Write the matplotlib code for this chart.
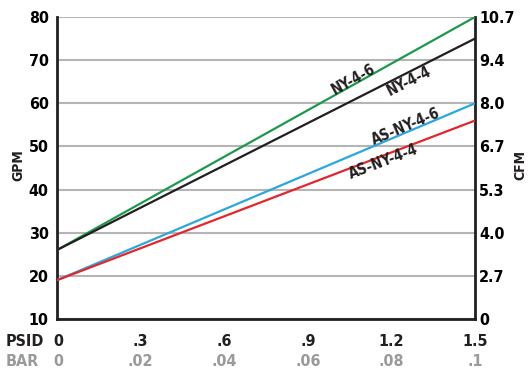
import matplotlib.pyplot as plt
import matplotlib.transforms as mtransforms
import numpy as np

# pressure drop (PSID) and flow (GPM) at each end of the curves
psid = [0, 1.5]
ny_4_6 = [26, 80]
ny_4_4 = [26, 75]
as_ny_4_6 = [19, 60]
as_ny_4_4 = [19, 56]

psid_ticks = [0, 0.3, 0.6, 0.9, 1.2, 1.5]
psid_labels = ["0", ".3", ".6", ".9", "1.2", "1.5"]
bar_labels = ["0", ".02", ".04", ".06", ".08", ".1"]
gpm_ticks = [10, 20, 30, 40, 50, 60, 70, 80]
cfm_labels = ["0", "2.7", "4.0", "5.3", "6.7", "8.0", "9.4", "10.7"]

plt.rcParams["font.family"] = ["DejaVu Sans"]
plt.rcParams["font.stretch"] = "condensed"
plt.rcParams["font.weight"] = "bold"

fig = plt.figure(figsize=(5.31, 3.71), dpi=100)
ax = fig.add_axes([57 / 531, 1 - 319 / 371, 418 / 531, 302 / 371])

series = [
    (ny_4_6, "#1b9a4b", "NY-4-6", 1.065, 65.6),
    (ny_4_4, "#231f20", "NY-4-4", 1.264, 65.1),
    (as_ny_4_6, "#2aa7df", "AS-NY-4-6", 1.253, 54.7),
    (as_ny_4_4, "#e3262b", "AS-NY-4-4", 1.17, 46.5),
]
for ys, col, name, tx, ty in series:
    ax.plot(psid, ys, color=col, lw=1.6, zorder=3, solid_capstyle="butt")
    ang = np.degrees(np.arctan2(ys[1] - ys[0], psid[1] - psid[0]))
    ax.text(tx, ty, name, rotation=ang, transform_rotates_text=True,
            rotation_mode="anchor", ha="center", va="center",
            fontsize=10.5, fontweight="bold", color="#231f20", zorder=4)

ax.set_xlim(0, 1.5)
ax.set_ylim(10, 80)
ax.set_yticks(gpm_ticks)
ax.set_yticklabels([str(t) for t in gpm_ticks], fontsize=11.5, fontweight="bold")
ax.yaxis.grid(True, color="#b5b5b5", lw=1.5)
ax.set_axisbelow(True)
ax.tick_params(axis="y", length=0, pad=6)
ax.set_xticks([])

for s in ["left", "bottom", "right"]:
    ax.spines[s].set_linewidth(2)
    ax.spines[s].set_color("#231f20")
ax.spines["top"].set_visible(False)

fig.text(18 / 531, 1 - 165 / 371, "GPM", rotation=90, ha="center", va="center",
         fontsize=10, fontweight="bold", color="#231f20")

ax2 = ax.twinx()
ax2.set_ylim(10, 80)
ax2.set_yticks(gpm_ticks)
ax2.set_yticklabels(cfm_labels, fontsize=11.5, fontweight="bold")
ax2.tick_params(axis="y", length=0, pad=3)
for s in ax2.spines.values():
    s.set_visible(False)
fig.text(520 / 531, 1 - 165 / 371, "CFM", rotation=90, ha="center", va="center",
         fontsize=10, fontweight="bold", color="#231f20")

# two rows of x labels: PSID in black, BAR in grey
trans = mtransforms.blended_transform_factory(ax.transData, fig.transFigure)
for x, p, b in zip(psid_ticks, psid_labels, bar_labels):
    off = 0.006 if x == 0 else 0
    ax.text(x + off, 1 - 342 / 371, p, transform=trans, ha="center", va="center",
            fontsize=11.5, fontweight="bold", color="#231f20")
    ax.text(x + off, 1 - 362 / 371, b, transform=trans, ha="center", va="center",
            fontsize=11.5, fontweight="bold", color="#9a9a9a")
fig.text(6 / 531, 1 - 342 / 371, "PSID", ha="left", va="center",
         fontsize=11.5, fontweight="bold", color="#231f20")
fig.text(6 / 531, 1 - 362 / 371, "BAR", ha="left", va="center",
         fontsize=11.5, fontweight="bold", color="#9a9a9a")

fig.savefig("out.png", dpi=100)
